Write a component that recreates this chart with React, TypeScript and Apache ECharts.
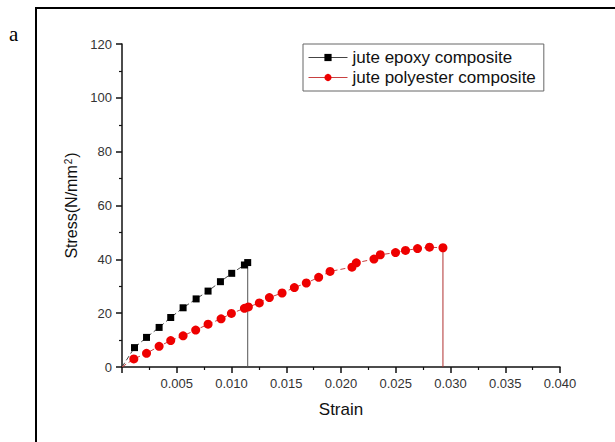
import React, { useEffect, useRef } from "react";
import * as echarts from "echarts";

// Strain values and stresses (N/mm²) for each composite
const epoxyStrain = [0, 0.00114, 0.00224, 0.00339, 0.00445, 0.00558, 0.00677, 0.00786, 0.00899, 0.01002, 0.01118, 0.01148];
const epoxyStress = [0, 7.2, 11.0, 14.7, 18.4, 22.0, 25.3, 28.2, 31.7, 34.8, 37.9, 38.8];

const polyStrain = [0, 0.00108, 0.00224, 0.00339, 0.00445, 0.00558, 0.00673, 0.00786, 0.00905, 0.00999, 0.01118, 0.01154, 0.01254, 0.01346, 0.01462, 0.01574, 0.01683, 0.01796, 0.019, 0.021, 0.0214, 0.02301, 0.02359, 0.02498, 0.02589, 0.02699, 0.02808, 0.02931];
const polyStress = [0, 3.0, 5.1, 7.7, 9.8, 11.6, 13.7, 15.9, 17.9, 19.9, 21.8, 22.3, 23.8, 25.8, 27.5, 29.5, 31.2, 33.3, 35.5, 37.1, 38.7, 40.1, 41.7, 42.5, 43.3, 44.0, 44.5, 44.3];

const seriesNames = ["jute epoxy composite", "jute polyester composite"];

// The curves start at the origin, which carries no marker
const pairs = (xs: number[], ys: number[]) =>
  xs.map((x, i) => (x === 0 ? { value: [x, ys[i]], symbol: "none" } : [x, ys[i]]));
// Vertical fracture line from the last measured point down to zero stress
const dropLine = (xs: number[], ys: number[]) => {
  const n = xs.length - 1;
  return [[xs[n], ys[n]], [xs[n], 0]];
};

const FONT = "'Liberation Sans', Arial, sans-serif";

export default function App() {
  const ref = useRef<HTMLDivElement>(null);

  useEffect(() => {
    if (!ref.current) return;
    const chart = echarts.init(ref.current, undefined, { renderer: "svg" });
    chart.setOption({
      animation: false,
      backgroundColor: "#fff",
      textStyle: { fontFamily: FONT },
      grid: { left: 122, right: 55, top: 44, bottom: 75 },
      graphic: [
        {
          type: "rect",
          shape: { x: 36, y: 8, width: 620, height: 520 },
          style: { fill: "none", stroke: "#000", lineWidth: 2 },
          silent: true,
        },
        {
          type: "text",
          left: 9,
          top: 23,
          style: { text: "a", font: "21px 'Liberation Serif', 'Times New Roman', serif", fill: "#000" },
        },
      ],
      legend: {
        data: seriesNames,
        orient: "vertical",
        left: 303,
        top: 44,
        itemWidth: 39,
        itemHeight: 9,
        itemGap: 3,
        padding: [5, 8, 5, 5],
        borderColor: "#666",
        borderWidth: 1,
        lineStyle: { type: "solid", width: 1 },
        textStyle: { fontSize: 17, color: "#111", fontFamily: FONT },
      },
      xAxis: {
        type: "value",
        min: 0,
        max: 0.04,
        interval: 0.005,
        name: "Strain",
        nameLocation: "middle",
        nameGap: 34,
        nameTextStyle: { fontSize: 17, color: "#111", fontFamily: FONT },
        axisLine: { onZero: false, lineStyle: { color: "#111", width: 1.5 } },
        axisTick: { length: 6, lineStyle: { color: "#111", width: 1.5 } },
        minorTick: { show: true, splitNumber: 2, length: 3, lineStyle: { color: "#111", width: 1.2 } },
        splitLine: { show: false },
        axisLabel: {
          fontSize: 13,
          color: "#333",
          margin: 10,
          formatter: (v: number) => (v === 0 ? "" : v.toFixed(3)),
        },
      },
      yAxis: {
        type: "value",
        min: 0,
        max: 120,
        interval: 20,
        name: "Stress(N/mm{sup|2})",
        nameLocation: "middle",
        nameGap: 42,
        nameTextStyle: {
          fontSize: 16,
          color: "#111",
          fontFamily: FONT,
          rich: {
            sup: { fontSize: 10, verticalAlign: "top", padding: [0, 1, 6, 1], color: "#111", fontFamily: FONT },
          },
        },
        axisLine: { show: true, lineStyle: { color: "#111", width: 1.5 } },
        axisTick: { show: true, length: 6, lineStyle: { color: "#111", width: 1.5 } },
        minorTick: { show: true, splitNumber: 2, length: 3, lineStyle: { color: "#111", width: 1.2 } },
        splitLine: { show: false },
        axisLabel: { fontSize: 13, color: "#333", margin: 10 },
      },
      series: [
        {
          name: seriesNames[0],
          type: "line",
          data: pairs(epoxyStrain, epoxyStress),
          symbol: "rect",
          symbolSize: 7,
          showAllSymbol: true,
          itemStyle: { color: "#000" },
          lineStyle: { color: "#444", width: 1, type: [5, 3] },
          z: 3,
        },
        {
          name: seriesNames[1],
          type: "line",
          data: pairs(polyStrain, polyStress),
          symbol: "circle",
          symbolSize: 9,
          showAllSymbol: true,
          itemStyle: { color: "#ee0000" },
          lineStyle: { color: "#c84040", width: 1, type: [5, 3] },
          z: 3,
        },
        {
          name: "epoxy fracture",
          type: "line",
          data: dropLine(epoxyStrain, epoxyStress),
          symbol: "none",
          lineStyle: { color: "#555", width: 1 },
          z: 2,
        },
        {
          name: "polyester fracture",
          type: "line",
          data: dropLine(polyStrain, polyStress),
          symbol: "none",
          lineStyle: { color: "#b03030", width: 1 },
          z: 2,
        },
      ],
    });
    return () => chart.dispose();
  }, []);

  return <div ref={ref} style={{ width: 615, height: 442, position: "absolute", left: 0, top: 0 }} />;
}
